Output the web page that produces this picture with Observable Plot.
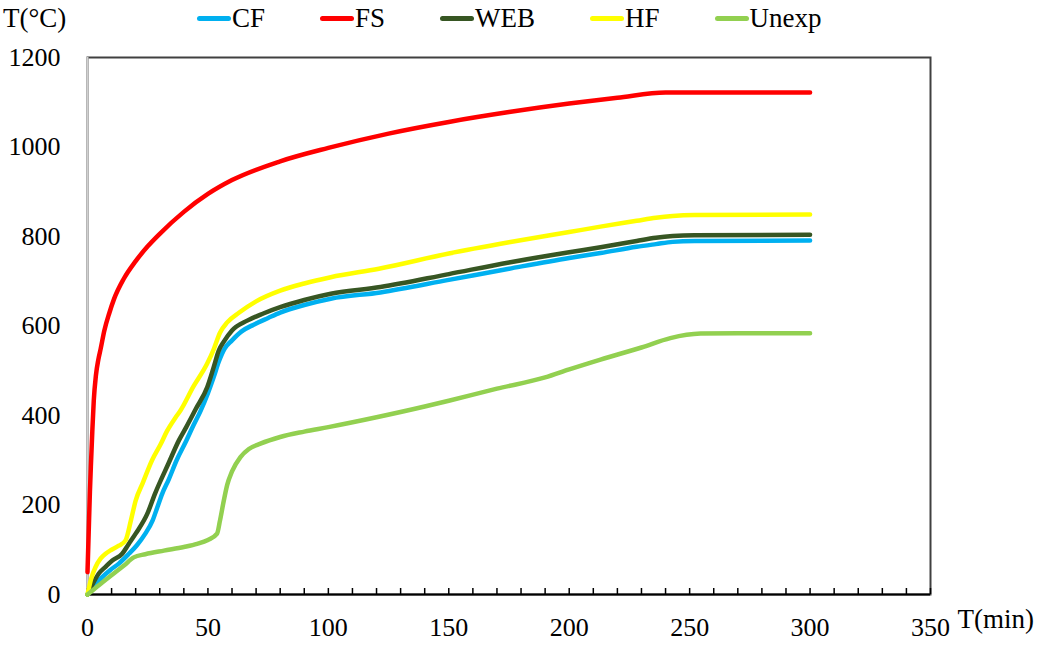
<!DOCTYPE html>
<html><head><meta charset="utf-8">
<script src="https://cdn.jsdelivr.net/npm/d3@7"></script>
<script src="https://cdn.jsdelivr.net/npm/@observablehq/plot@0.6"></script>
<style>
body{margin:0;background:#fff;font-family:"Liberation Serif","Times New Roman",serif;color:#000;}
#head{position:relative;height:40px;width:1041px;}
#ylab{position:absolute;left:3px;top:1px;font-size:27px;line-height:34px;}
#legend{position:absolute;left:197px;top:1px;display:flex;gap:55px;font-size:27px;line-height:34px;}
.item{display:flex;align-items:center;}
.sw{width:34px;height:5px;border-radius:3px;margin-right:1px;}
</style></head>
<body>
<div id="head"><div id="ylab"></div><div id="legend"></div></div>
<div id="chart"></div>
<script>
// ---- data ----
const seriesNames = ["CF", "FS", "WEB", "HF", "Unexp"];
const palette = ["#00B0F0", "#FF0000", "#375623", "#FFFF00", "#92D050"];

const tCF = [0, 3, 6.1, 9.5, 13, 17.2, 20.5, 24, 27, 29, 31, 33.8, 37, 40.7, 44, 47, 50, 52.4, 54.5, 57, 60, 64, 69, 75, 80, 90, 101, 121.6, 150, 175, 200, 213, 228, 236, 243, 252, 300];
const vCF = [0, 20, 39, 55, 69, 91, 110, 136, 165, 195, 225, 258, 300, 340, 378, 411, 450, 486, 520, 550, 568, 588, 603, 618, 630, 647, 661, 675, 703, 728, 752, 763, 777, 783, 788, 790, 791];

const tFS = [0, 0.5, 1, 1.5, 2, 2.6, 3.5, 4.5, 5.5, 7, 9, 11, 15, 20, 25, 30, 40, 50, 60, 80, 100, 125, 150, 175, 200, 220, 240, 300];
const vFS = [50, 140, 230, 300, 365, 433, 490, 525, 550, 590, 628, 660, 705, 745, 778, 806, 855, 895, 926, 968, 998, 1030, 1056, 1078, 1097, 1110, 1122, 1122];

const tWEB = [0, 2, 4.7, 7.5, 10.3, 14.4, 17, 20, 24.8, 28, 33.8, 38, 41, 45, 49.7, 52.4, 54.5, 56.6, 60, 66.3, 73, 80, 90, 101, 121.6, 150, 175, 200, 213, 228, 236, 243, 252, 300];
const vWEB = [0, 22, 47, 62, 76, 91, 112, 136, 180, 225, 295, 345, 374, 415, 463, 508, 545, 565, 590, 612, 628, 642, 658, 672, 687, 716, 742, 765, 776, 790, 797, 801, 803, 804];

const tHF = [0, 1.5, 3.3, 5.4, 7.5, 10, 13, 15.8, 18, 20, 23, 26.8, 30.3, 33, 36.5, 38.6, 44, 49.7, 52.4, 55, 58, 63, 70, 80, 90, 101, 121, 150, 175, 200, 213, 228, 236, 243, 252, 300];
const vHF = [0, 35, 61, 80, 91, 100, 109, 121, 165, 210, 250, 300, 335, 365, 395, 411, 465, 516, 548, 585, 608, 630, 655, 679, 695, 709, 728, 762, 787, 810, 822, 835, 842, 846, 848, 849];

const tUnexp = [0, 5, 10.9, 15, 19.2, 24, 31.7, 40, 45.5, 50, 53.8, 55, 56.6, 58, 60, 63.5, 67, 71.8, 80, 90, 100, 120, 140, 150, 170, 190, 200, 213, 230, 242, 254.5, 270, 300];
const vUnexp = [0, 22, 47, 64, 83, 90, 98, 106, 113, 122, 136, 165, 210, 245, 275, 307, 325, 337, 352, 364, 374, 396, 420, 433, 460, 485, 503, 525, 552, 573, 583, 584, 584];

const xTicks = [0, 50, 100, 150, 200, 250, 300, 350];
const xMinorTicks = d3.range(0, 351, 10);
const yTicks = [0, 200, 400, 600, 800, 1000, 1200];
const xTitle = "T(min)";
const yTitle = "T(°C)";

// ---- table ----
const times = [tCF, tFS, tWEB, tHF, tUnexp];
const temps = [vCF, vFS, vWEB, vHF, vUnexp];
const rows = [];
seriesNames.forEach((name, i) => {
  times[i].forEach((t, j) => rows.push({series: name, t, T: temps[i][j]}));
});

// ---- header (y title + legend) ----
document.getElementById("ylab").textContent = yTitle;
const legend = document.getElementById("legend");
seriesNames.forEach((name, i) => {
  const item = document.createElement("div");
  item.className = "item";
  const sw = document.createElement("span");
  sw.className = "sw";
  sw.style.background = palette[i];
  const lab = document.createElement("span");
  lab.textContent = name;
  item.appendChild(sw); item.appendChild(lab);
  legend.appendChild(item);
});

// ---- chart ----
const font = "Liberation Serif, Times New Roman, serif";
const chart = Plot.plot({
  width: 1041,
  height: 608,
  marginTop: 17,
  marginLeft: 87,
  marginRight: 111,
  marginBottom: 54,
  style: {fontFamily: font, fontSize: "26px", color: "#000", background: "#fff", overflow: "visible"},
  x: {domain: [0, 350], label: null},
  y: {domain: [0, 1200], label: null},
  color: {domain: seriesNames, range: palette},
  marks: [
    Plot.frame({stroke: "#404040", strokeWidth: 2}),
    Plot.ruleX([0], {stroke: "#d0d0d0", strokeWidth: 2}),
    Plot.ruleY([0], {stroke: "#000", strokeWidth: 2}),
    Plot.axisX(xMinorTicks, {tickSize: -6, text: null, stroke: "#000", strokeWidth: 1.5, label: null}),
    Plot.axisX(xTicks, {tickSize: 0, tickPadding: 23, tickFormat: d => String(d), fontSize: 26, label: null}),
    Plot.axisY(yTicks, {tickSize: 0, tickPadding: 27, tickFormat: d => String(d), fontSize: 26, label: null}),
    Plot.line(rows, {x: "t", y: "T", z: "series", stroke: "series", strokeWidth: 4.5, curve: "monotone-x"}),
    Plot.text([xTitle], {text: d => d, frameAnchor: "bottom-right", dx: 27, dy: 33, textAnchor: "start", fontSize: 27})
  ]
});
document.getElementById("chart").appendChild(chart);
</script>
</body></html>
